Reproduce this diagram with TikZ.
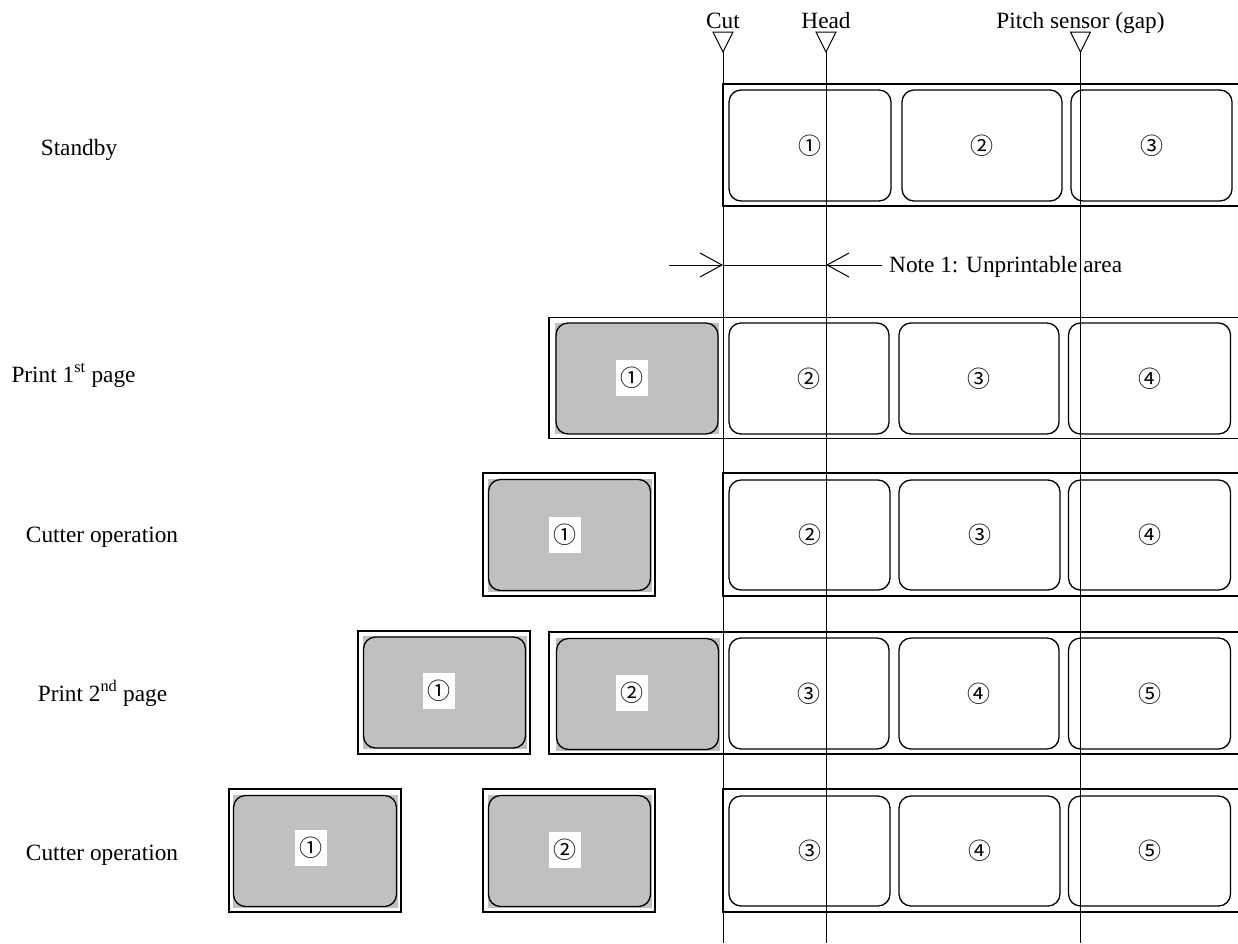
\documentclass[tikz,border=0pt]{standalone}
\usepackage{fontspec}
\setmainfont{Liberation Serif}
\newfontfamily\cjk{Noto Sans CJK JP}
\usetikzlibrary{arrows.meta}
\definecolor{lgrey}{HTML}{C0C0C0}
\begin{document}
\begin{tikzpicture}[x=1pt,y=-1pt,
  txt/.style={font=\fontsize{23.3}{28}\selectfont, inner sep=0pt, anchor=base},
  stripline/.style={line width=1.6pt},
  lab/.style={draw, line width=1.3pt, rounded corners=12pt, inner sep=0pt,
     font=\cjk\fontsize{23}{24}\selectfont, minimum height=111pt},
  gfill/.style={fill=lgrey, inner sep=0pt},
  wbox/.style={fill=white, minimum width=32pt, minimum height=36pt, inner sep=0pt,
     font=\cjk\fontsize{23}{24}\selectfont},
  frm/.style={draw, line width=1.5pt, inner sep=0pt, minimum width=172pt, minimum height=123pt},
  guide/.style={line width=1pt},
  tri/.style={line width=1pt},
  barb/.style={line width=1pt, -{Straight Barb[length=22pt,width=24pt,line width=1pt]}}
]
\useasboundingbox (0,0) rectangle (1238,943);

% ---------- markers ----------
\node[txt] (cutlbl) at (723,28) {Cut};
\node[txt] (headlbl) at (826,28) {Head};
\node[txt] (pitchlbl) at (1080.5,28) {Pitch sensor (gap)};
\draw[tri] (713,32) -- (733,32) -- (723,52) -- cycle;
\draw[tri] (816,32) -- (836,32) -- (826,52) -- cycle;
\draw[tri] (1070.5,32) -- (1090.5,32) -- (1080.5,52) -- cycle;
\coordinate (cutT) at (723,52);   \coordinate (cutB) at (723,943);
\coordinate (headT) at (826,52);  \coordinate (headB) at (826,943);
\coordinate (pitT) at (1080.5,52); \coordinate (pitB) at (1080.5,943);

% ---------- row labels ----------
\node[txt] (t1) at (79,155) {Standby};
\node[txt] (t2) at (73.5,382) {Print 1\textsuperscript{st} page};
\node[txt] (t3) at (102,542) {Cutter operation};
\node[txt] (t4) at (102.5,701) {Print 2\textsuperscript{nd} page};
\node[txt] (t5) at (102,860) {Cutter operation};

% ---------- row 1: standby ----------
\draw[stripline] (1238,84) -- (723,84) -- (723,206) -- (1238,206);
\node[lab, minimum width=162pt] (r1a) at (810,145.5) {①};
\node[lab, minimum width=160pt] (r1b) at (982,145.5) {②};
\node[lab, minimum width=161pt] (r1c) at (1151.5,145.5) {③};

% ---------- note 1 ----------
\coordinate (nL) at (669,265);
\coordinate (nCut) at (723,265);
\coordinate (nHead) at (826,265);
\coordinate (nR) at (882,265);
\draw[barb] (nL) -- (nCut);
\draw[line width=1pt] (nCut) -- (nHead);
\draw[barb] (nR) -- (nHead);
\node[txt, anchor=base west] (note) at (889,272) {Note 1: Unprintable area};

% ---------- row 2: print 1st page ----------
\draw[stripline] (1238,317.5) -- (549,317.5) -- (549,438.5) -- (1238,438.5);
\node[gfill, minimum width=164pt, minimum height=111pt] (r2g) at (637,378.5) {};
\node[lab, minimum width=162pt] (r2a) at (637,378.5) {};
\node[wbox] (r2aw) at (632,378) {①};
\node[lab, minimum width=160pt] (r2b) at (809,378.5) {②};
\node[lab, minimum width=160pt] (r2c) at (979,378.5) {③};
\node[lab, minimum width=162pt] (r2d) at (1149.5,378.5) {④};

% ---------- row 3: cutter operation ----------
\node[frm] (r3f) at (569,534.5) {};
\node[gfill, minimum width=164pt, minimum height=113pt] (r3g) at (569.5,535) {};
\node[lab, minimum width=162pt, minimum height=111pt] (r3a) at (569.5,535) {};
\node[wbox] (r3aw) at (565,535) {①};
\draw[stripline] (1238,473) -- (723,473) -- (723,596) -- (1238,596);
\node[lab, minimum width=161pt, minimum height=110pt] (r3b) at (809.5,535) {②};
\node[lab, minimum width=161pt, minimum height=110pt] (r3c) at (979.5,535) {③};
\node[lab, minimum width=162pt, minimum height=110pt] (r3d) at (1149.5,535) {④};

% ---------- row 4: print 2nd page ----------
\node[frm] (r4f) at (444,692.5) {};
\node[gfill, minimum width=164pt, minimum height=113pt] (r4g) at (444.5,692.5) {};
\node[lab, minimum width=162pt, minimum height=111pt] (r4a) at (444.5,692.5) {};
\node[wbox] (r4aw) at (439,691) {①};
\draw[stripline] (1238,632) -- (549,632) -- (549,754) -- (1238,754);
\node[gfill, minimum width=164pt, minimum height=113pt] (r4h) at (637.5,694) {};
\node[lab, minimum width=162pt, minimum height=111pt] (r4b) at (637.5,694) {};
\node[wbox] (r4bw) at (631.7,693) {\raisebox{-5pt}{②}};
\node[lab, minimum width=160pt, minimum height=111pt] (r4c) at (809,693.5) {③};
\node[lab, minimum width=160pt, minimum height=111pt] (r4d) at (979,693.5) {④};
\node[lab, minimum width=162pt, minimum height=111pt] (r4e) at (1149.5,693.5) {⑤};

% ---------- row 5: cutter operation ----------
\node[frm] (r5f) at (315,850.5) {};
\node[gfill, minimum width=165pt, minimum height=113pt] (r5g) at (315,851) {};
\node[lab, minimum width=163pt, minimum height=111pt] (r5a) at (315,851) {};
\node[wbox] (r5aw) at (311,848) {①};
\node[frm] (r5f2) at (569,850.5) {};
\node[gfill, minimum width=164pt, minimum height=113pt] (r5h) at (569.5,851) {};
\node[lab, minimum width=162pt, minimum height=111pt] (r5b) at (569.5,851) {};
\node[wbox] (r5bw) at (565,850) {\raisebox{-3pt}{②}};
\draw[stripline] (1238,789) -- (723,789) -- (723,912) -- (1238,912);
\node[lab, minimum width=161pt, minimum height=110pt] (r5c) at (809.5,851) {③};
\node[lab, minimum width=161pt, minimum height=110pt] (r5d) at (979.5,851) {④};
\node[lab, minimum width=162pt, minimum height=110pt] (r5e) at (1149.5,851) {⑤};

% ---------- guide lines ----------
\draw[guide] (cutT) -- (cutB);
\draw[guide] (headT) -- (headB);
\draw[guide] (pitT) -- (pitB);
\end{tikzpicture}
\end{document}
